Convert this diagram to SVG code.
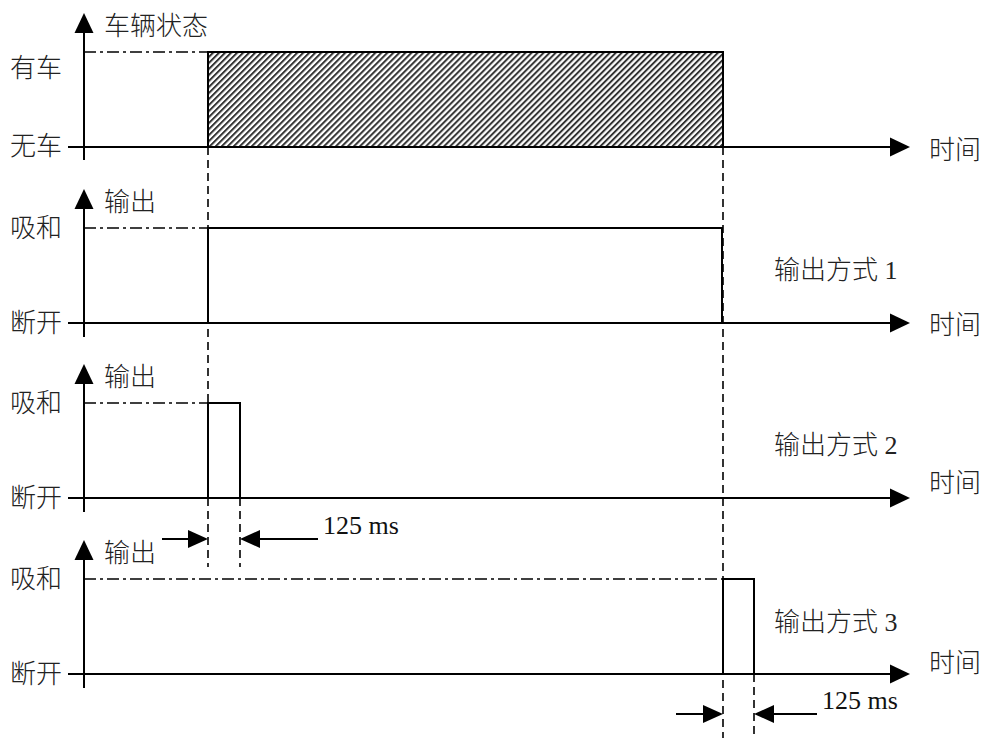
<svg xmlns="http://www.w3.org/2000/svg" width="985" height="738" viewBox="0 0 985 738">
<style>
.t{font-family:"Liberation Serif","Noto Sans CJK SC",serif;font-size:26px;font-weight:300;fill:#222;dominant-baseline:central}
.ax{stroke:#000;stroke-width:2;fill:none}
.sig{stroke:#000;stroke-width:2;fill:none}
.dd{stroke:#000;stroke-width:1.6;stroke-dasharray:12 4 3 4;fill:none}
.ds{stroke:#000;stroke-width:1.6;stroke-dasharray:8 5;fill:none}
.hd{fill:#000}
.ms{font-family:"Liberation Serif",serif;font-size:26px;fill:#111}
</style>
<defs>
<pattern id="hatch" patternUnits="userSpaceOnUse" width="4.25" height="10" patternTransform="rotate(45)">
<rect x="0" y="0" width="4.25" height="10" fill="#fff"/>
<line x1="1" y1="0" x2="1" y2="10" stroke="#333" stroke-width="2"/>
</pattern>
</defs>

<g id="guides">
<line class="ds" x1="208" y1="147" x2="208" y2="567"/>
<line class="ds" x1="723" y1="147" x2="723" y2="738"/>
<line class="ds" x1="240" y1="498" x2="240" y2="567"/>
<line class="ds" x1="754" y1="674" x2="754" y2="738"/>
</g>

<g id="panel1">
<line class="dd" x1="84" y1="52" x2="208" y2="52"/>
<rect x="208" y="52" width="515" height="95" fill="url(#hatch)" stroke="#000" stroke-width="2"/>
<line class="ax" x1="84" y1="30" x2="84" y2="160"/>
<polygon class="hd" points="84,13 74.5,33 93.5,33"/>
<line class="ax" x1="68" y1="147" x2="892" y2="147"/>
<polygon class="hd" points="910,147 890,137.5 890,156.5"/>
<text class="t" x="104" y="26">车辆状态</text>
<text class="t" x="10" y="68">有车</text>
<text class="t" x="10" y="146">无车</text>
<text class="t" x="929" y="150">时间</text>
</g>

<g id="panel2">
<line class="dd" x1="84" y1="228" x2="208" y2="228"/>
<polyline class="sig" points="208,323 208,228 722,228 722,323"/>
<line class="ax" x1="84" y1="206" x2="84" y2="337"/>
<polygon class="hd" points="84,189 74.5,209 93.5,209"/>
<line class="ax" x1="68" y1="323" x2="892" y2="323"/>
<polygon class="hd" points="910,323 890,313.5 890,332.5"/>
<text class="t" x="104" y="202">输出</text>
<text class="t" x="10" y="228">吸和</text>
<text class="t" x="10" y="323">断开</text>
<text class="t" x="774" y="270">输出方式 1</text>
<text class="t" x="929" y="325">时间</text>
</g>

<g id="panel3">
<line class="dd" x1="84" y1="403" x2="208" y2="403"/>
<polyline class="sig" points="208,498 208,403 240,403 240,498"/>
<line class="ax" x1="84" y1="381" x2="84" y2="512"/>
<polygon class="hd" points="84,364 74.5,384 93.5,384"/>
<line class="ax" x1="68" y1="498" x2="892" y2="498"/>
<polygon class="hd" points="910,498 890,488.5 890,507.5"/>
<text class="t" x="104" y="377">输出</text>
<text class="t" x="10" y="403">吸和</text>
<text class="t" x="10" y="498">断开</text>
<text class="t" x="774" y="445">输出方式 2</text>
<text class="t" x="929" y="483">时间</text>
</g>

<g id="panel4">
<line class="dd" x1="84" y1="579" x2="723" y2="579"/>
<polyline class="sig" points="723,674 723,579 754,579 754,674"/>
<line class="ax" x1="84" y1="557" x2="84" y2="688"/>
<polygon class="hd" points="84,540 74.5,560 93.5,560"/>
<line class="ax" x1="68" y1="674" x2="892" y2="674"/>
<polygon class="hd" points="910,674 890,664.5 890,683.5"/>
<text class="t" x="104" y="553">输出</text>
<text class="t" x="10" y="579">吸和</text>
<text class="t" x="10" y="674">断开</text>
<text class="t" x="774" y="622">输出方式 3</text>
<text class="t" x="929" y="663">时间</text>
</g>

<g id="connectors">
<line class="sig" x1="162" y1="539" x2="190" y2="539"/>
<polygon class="hd" points="208,539 188,530 188,548"/>
<polygon class="hd" points="240,539 260,530 260,548"/>
<line class="sig" x1="258" y1="539" x2="318" y2="539"/>
<text class="ms" x="323" y="534">125 ms</text>
<line class="sig" x1="676" y1="714" x2="705" y2="714"/>
<polygon class="hd" points="723,714 703,705 703,723"/>
<polygon class="hd" points="754,714 774,705 774,723"/>
<line class="sig" x1="772" y1="714" x2="817" y2="714"/>
<text class="ms" x="822" y="709">125 ms</text>
</g>
</svg>
